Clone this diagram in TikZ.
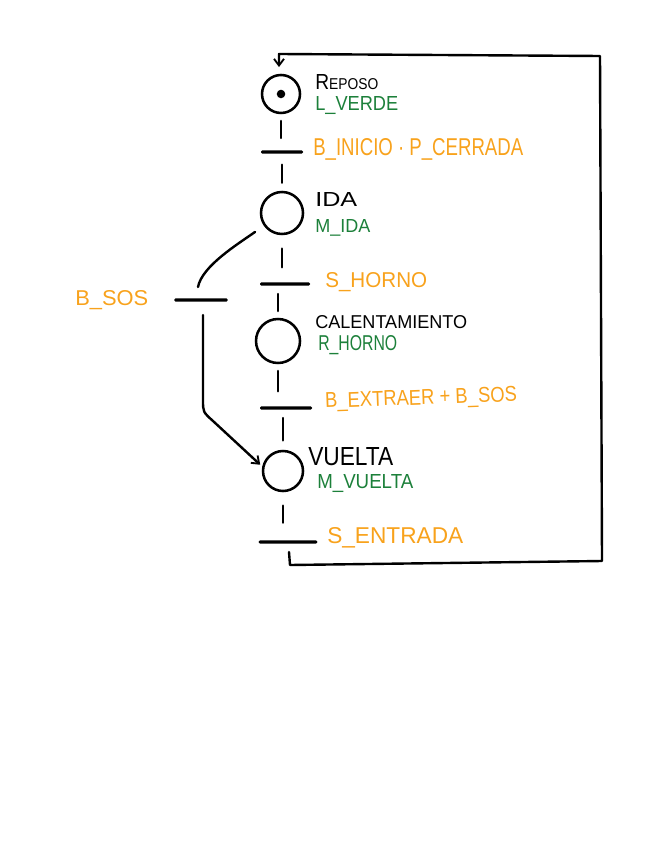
\documentclass[tikz,border=0pt]{standalone}
\usepackage{fontspec}
\setmainfont{Liberation Sans}
\usetikzlibrary{arrows.meta,calc}
\newdimen\pxu \pxu=0.75pt
\definecolor{sfcorange}{RGB}{248,162,28}
\definecolor{sfcgreen}{RGB}{28,128,58}
\newcommand{\lab}[3]{\resizebox{#1\pxu}{#2\pxu}{#3}}
\begin{document}
\begin{tikzpicture}[x=0.75pt,y=-0.75pt,
  line cap=round, line join=round,
  place/.style={circle,draw=black,line width=1.9pt,inner sep=0pt},
  bar/.style={fill=black,inner sep=0pt,minimum height=2.6pt,rounded corners=1pt},
  link/.style={draw=black,line width=1.8pt},
  lbl/.style={anchor=base west,inner sep=0pt},
  act/.style={lbl,text=sfcgreen},
  cond/.style={lbl,text=sfcorange},
  tip/.style={-{Straight Barb[length=5pt,width=7.5pt,line width=1.4pt]}}
]
\useasboundingbox (0,0) rectangle (646,848);
% places
\node[place,minimum size=28.5pt] (p0) at (281,94) {};
\fill (p0.center) circle (3.2pt);
\node[place,minimum size=31.5pt] (p1) at (282,213) {};
\node[place,minimum size=33pt] (p2) at (278,341) {};
\node[place,minimum size=30pt] (p3) at (283,471) {};
% transitions
\node[bar,minimum width=31.5pt] (t0) at (282,152) {};
\node[bar,minimum width=37.5pt] (t1) at (285,284) {};
\node[bar,minimum width=39pt] (t2) at (286,408) {};
\node[bar,minimum width=44pt] (t3) at (288,542) {};
\node[bar,minimum width=40pt] (ts) at (201,300) {};
% main chain
\draw[link,shorten <=5pt,shorten >=9pt] (p0.south) -- (p0.south |- t0.north);
\draw[link,shorten <=8pt,shorten >=6pt] (t0.south) -- (t0.south |- p1.north);
\draw[link,shorten <=10pt,shorten >=11pt] (p1.south) -- (p1.south |- t1.north);
\draw[link,shorten <=6pt,shorten >=5pt] (t1.south -| p2.south) -- (p2.north);
\draw[link,shorten <=5pt,shorten >=11pt] (p2.south) -- (p2.south |- t2.north);
\draw[link,shorten <=6pt,shorten >=7pt] (t2.south -| p3.north) -- (p3.north);
\draw[link,shorten <=10pt,shorten >=13pt] (p3.south) -- (p3.south |- t3.north);
% return loop
\coordinate (rb) at (290,565);
\coordinate (rr) at (602,561);
\coordinate (rt) at (600,56);
\coordinate (rl) at (279,54);
\draw[link,tip,shorten >=5pt] ($(t3.south)+(1,8)$) -- (rb) -- (rr) -- (rt) -- (rl) -- (rl |- p0.north);
% SOS branch
\draw[link,shorten <=8pt] (p1.215) .. controls (238,244) and (202,266) .. ($(ts.north)+(-3,-11)$);
\coordinate (sa) at (203,400);
\draw[link,tip,shorten >=2pt] ($(ts.south)+(2,13)$) -- (sa) .. controls (203,412) .. (213,421) -- (p3.168);
% labels
\node[lbl] (lr) at (315,90) {\lab{63}{15}{R\scalebox{0.72}{EPOSO}}};
\node[act] (la0) at (315,111) {\lab{83}{14}{L\_VERDE}};
\node[cond] (lc0) at (313,156) {\lab{210}{17}{B\_INICIO · P\_CERRADA}};
\node[lbl] (li) at (315,207) {\lab{42}{14}{IDA}};
\node[act] (la1) at (315,233) {\lab{55}{13}{M\_IDA}};
\node[cond] (lc1) at (325,287) {\lab{102}{15}{S\_HORNO}};
\node[cond] (ls) at (75,305) {\lab{73}{15}{B\_SOS}};
\node[lbl] (lk) at (315,328) {\lab{152}{13}{CALENTAMIENTO}};
\node[act] (la2) at (318,350) {\lab{79}{15}{R\_HORNO}};
\node[cond,rotate=2] (lc2) at (325,408) {\lab{192}{15}{B\_EXTRAER + B\_SOS}};
\node[lbl] (lv) at (308,465) {\lab{85}{18}{VUELTA}};
\node[act] (la3) at (317,488) {\lab{96}{14}{M\_VUELTA}};
\node[cond] (lc3) at (327,543) {\lab{136}{16}{S\_ENTRADA}};
\end{tikzpicture}
\end{document}
